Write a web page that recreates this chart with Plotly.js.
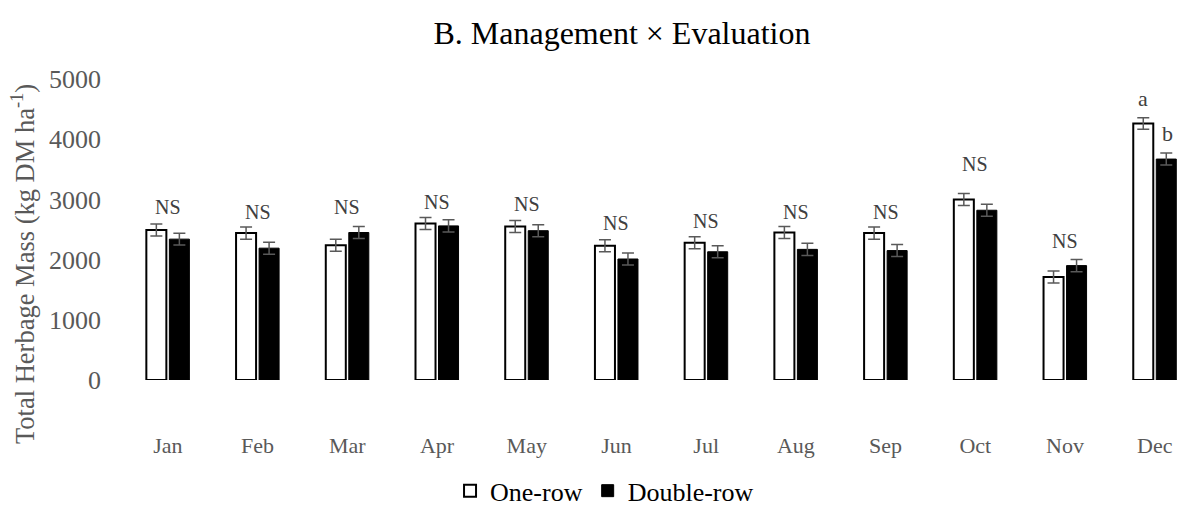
<!DOCTYPE html>
<html>
<head>
<meta charset="utf-8">
<script src="https://cdn.plot.ly/plotly-3.0.1.min.js"></script>
<style>html,body{margin:0;padding:0;background:#fff;}#chart{width:1179px;height:507px;}</style>
</head>
<body>
<div id="chart"></div>
<script>
const months = ["Jan","Feb","Mar","Apr","May","Jun","Jul","Aug","Sep","Oct","Nov","Dec"];
const oneRow = [2490, 2440, 2240, 2600, 2550, 2230, 2280, 2450, 2440, 3000, 1710, 4260];
const oneRowErr = [100, 100, 100, 100, 100, 100, 100, 100, 100, 100, 100, 95];
const doubleRow = [2340, 2190, 2450, 2560, 2480, 2010, 2130, 2170, 2150, 2820, 1900, 3670];
const doubleRowErr = [97, 100, 100, 100, 100, 100, 100, 100, 100, 100, 100, 100];
const sigLabels = ["NS","NS","NS","NS","NS","NS","NS","NS","NS","NS","NS"];
const decLabels = ["a","b"];

const serif = "Liberation Serif";
const gray = "#595959";

const traces = [
  {
    type: "bar", name: "One-row", x: months, y: oneRow,
    marker: {color: "#ffffff", line: {color: "#000000", width: 2}},
    error_y: {type: "data", array: oneRowErr, visible: true, color: gray, thickness: 1.5, width: 6}
  },
  {
    type: "bar", name: "Double-row", x: months, y: doubleRow,
    marker: {color: "#000000", line: {color: "#000000", width: 1}},
    error_y: {type: "data", array: doubleRowErr, visible: true, color: gray, thickness: 1.5, width: 6}
  }
];

const nsY = [2874, 2791, 2874, 2957, 2924, 2608, 2641, 2791, 2791, 3588, 2309];
const annotations = sigLabels.map((t, i) => ({
  x: i, y: nsY[i], xref: "x", yref: "y", text: t, showarrow: false,
  yanchor: "middle", font: {family: serif, size: 20, color: "#404040"}
}));
annotations.push({x: 10.866, y: 4668, xref: "x", yref: "y", text: decLabels[0], showarrow: false,
  yanchor: "middle", font: {family: serif, size: 22, color: "#404040"}});
annotations.push({x: 11.145, y: 4103, xref: "x", yref: "y", text: decLabels[1], showarrow: false,
  yanchor: "middle", font: {family: serif, size: 22, color: "#404040"}});
annotations.push({
  x: -0.0948, y: 0.385, xref: "paper", yref: "paper", textangle: -90, showarrow: false,
  text: "Total Herbage Mass (kg DM ha<sup>-1</sup>)", xanchor: "center", yanchor: "middle",
  font: {family: serif, size: 26.5, color: gray}
});

const layout = {
  width: 1179, height: 507,
  margin: {l: 123, r: 0, t: 79, b: 127, autoexpand: false},
  paper_bgcolor: "#ffffff", plot_bgcolor: "#ffffff",
  font: {family: serif},
  title: {text: "B. Management × Evaluation", x: 0.4725, xref: "paper", xanchor: "center",
          y: 0.935, yref: "container", yanchor: "middle",
          font: {family: serif, size: 32, color: "#000000"}},
  barmode: "group", bargap: 0.487, bargroupgap: 0.13,
  xaxis: {
    type: "category", range: [-0.5, 11.27], showgrid: false, zeroline: false, showline: false,
    automargin: false,
    ticks: "", ticklabelstandoff: 50, tickfont: {family: serif, size: 22, color: gray}
  },
  yaxis: {
    range: [0, 5000], tickvals: [0, 1000, 2000, 3000, 4000, 5000], showgrid: false,
    automargin: false,
    zeroline: false, showline: false, ticks: "", ticklabelstandoff: 21,
    tickfont: {family: serif, size: 26, color: gray}
  },
  showlegend: true,
  legend: {orientation: "h", x: 0.456, xanchor: "center", y: -0.368, yanchor: "middle",
           font: {family: serif, size: 26, color: "#000000"}, itemwidth: 30, traceorder: "normal"},
  annotations: annotations
};

Plotly.newPlot("chart", traces, layout, {displayModeBar: false, staticPlot: true});
</script>
</body>
</html>
